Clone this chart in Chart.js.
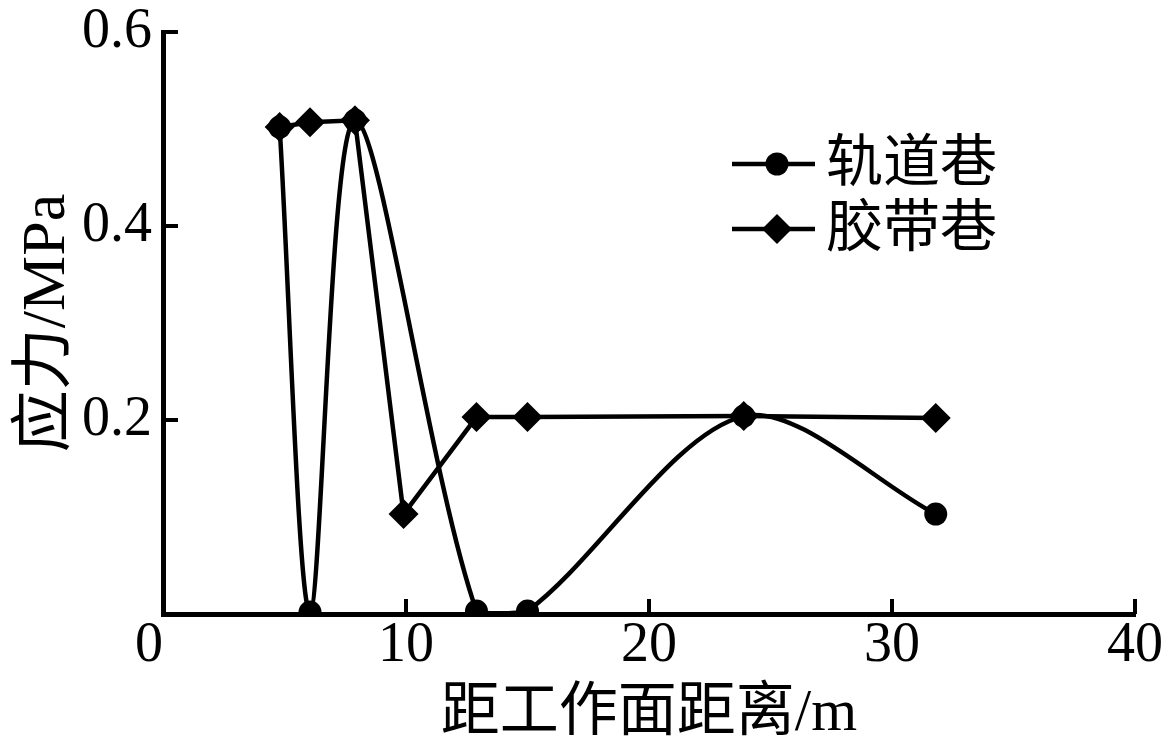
<!DOCTYPE html>
<html>
<head>
<meta charset="utf-8">
<title>应力</title>
<script src="https://cdn.jsdelivr.net/npm/chart.js@4/dist/chart.umd.min.js"></script>
<style>
  html, body { margin: 0; padding: 0; background: #fff; }
  #wrap { width: 1164px; height: 756px; position: relative; }
</style>
</head>
<body>
<div id="wrap"><canvas id="chart"></canvas></div>
<script>
'use strict';

// data
var seriesNames = ['轨道巷', '胶带巷'];
var trackX = [4.8, 6.05, 7.9, 12.9, 15, 23.9, 31.8];
var trackY = [0.502, 0.002, 0.509, 0.003, 0.003, 0.204, 0.103];
var beltX = [4.8, 6.05, 7.9, 9.9, 12.9, 15, 23.9, 31.8];
var beltY = [0.502, 0.507, 0.509, 0.103, 0.203, 0.203, 0.204, 0.202];
var xTicks = [0, 10, 20, 30, 40];
var yTicks = [0.2, 0.4, 0.6];

var FONT = "'Liberation Serif', 'Times New Roman', 'Noto Sans CJK SC', serif";
var TICK_LEN = 15;

function toPoints(xs, ys) {
    return xs.map(function (x, i) { return {x: x, y: ys[i]}; });
}

// inward tick marks, placed by the scales
var innerTicks = {
    id: 'innerTicks',
    afterDraw: function (chart) {
        var ctx = chart.ctx, area = chart.chartArea;
        var sx = chart.scales.x, sy = chart.scales.y;
        ctx.save();
        ctx.strokeStyle = '#000';
        ctx.lineWidth = 4;
        xTicks.forEach(function (v) {
            var px = sx.getPixelForValue(v);
            ctx.beginPath();
            ctx.moveTo(px, area.bottom);
            ctx.lineTo(px, area.bottom - TICK_LEN);
            ctx.stroke();
        });
        yTicks.forEach(function (v) {
            var py = sy.getPixelForValue(v);
            ctx.beginPath();
            ctx.moveTo(area.left, py);
            ctx.lineTo(area.left + TICK_LEN, py);
            ctx.stroke();
        });
        ctx.restore();
    }
};

// legend: short line with marker, then the label
var lineLegend = {
    id: 'lineLegend',
    afterDraw: function (chart) {
        var ctx = chart.ctx;
        var rows = [164, 229];
        ctx.save();
        chart.data.datasets.forEach(function (ds, i) {
            var y = rows[i];
            ctx.strokeStyle = '#000';
            ctx.fillStyle = '#000';
            ctx.lineWidth = 4.5;
            ctx.beginPath();
            ctx.moveTo(732, y);
            ctx.lineTo(815, y);
            ctx.stroke();
            var cx = 777, r = ds.pointRadius;
            ctx.beginPath();
            if (ds.pointStyle === 'rectRot') {
                ctx.moveTo(cx - r, y);
                ctx.lineTo(cx, y - r);
                ctx.lineTo(cx + r, y);
                ctx.lineTo(cx, y + r);
                ctx.closePath();
            } else {
                ctx.arc(cx, y, r, 0, Math.PI * 2);
            }
            ctx.fill();
            ctx.font = '57px ' + FONT;
            ctx.textAlign = 'left';
            ctx.textBaseline = 'middle';
            ctx.fillText(ds.label, 826, y + 2);
        });
        ctx.restore();
    }
};

var ctx = document.getElementById('chart').getContext('2d');
var chart = new Chart(ctx, {
    type: 'line',
    data: {
        datasets: [
            {
                label: seriesNames[0],
                data: toPoints(trackX, trackY),
                borderColor: '#000',
                backgroundColor: '#000',
                borderWidth: 4.5,
                pointStyle: 'circle',
                pointRadius: 11.5,
                pointBorderWidth: 0,
                tension: 0.3,
                order: 1
            },
            {
                label: seriesNames[1],
                data: toPoints(beltX, beltY),
                borderColor: '#000',
                backgroundColor: '#000',
                borderWidth: 4.5,
                pointStyle: 'rectRot',
                pointRadius: 15,
                pointBorderWidth: 0,
                tension: 0,
                order: 0
            }
        ]
    },
    options: {
        responsive: true,
        maintainAspectRatio: false,
        devicePixelRatio: 1,
        animation: false,
        layout: { padding: { left: 0, top: 32, right: 29, bottom: 0 } },
        plugins: {
            legend: { display: false },
            tooltip: { enabled: false }
        },
        scales: {
            x: {
                type: 'linear',
                min: 0,
                max: 40,
                afterFit: function (scale) {
                    scale.height = 142;
                    scale.paddingLeft = 0;
                    scale.paddingRight = 0;
                },
                afterBuildTicks: function (scale) {
                    scale.ticks = xTicks.map(function (v) { return {value: v}; });
                },
                grid: { display: false, drawTicks: false },
                border: { display: true, color: '#000', width: 5 },
                ticks: {
                    color: '#000',
                    padding: 4,
                    maxRotation: 0,
                    font: { family: FONT, size: 56, lineHeight: 1 },
                    callback: function (v) { return v === 0 ? '0  ' : String(v); }
                },
                title: {
                    display: true,
                    text: '距工作面距离/m',
                    color: '#000',
                    font: { family: FONT, size: 59 },
                    padding: { top: 0, bottom: 6 }
                }
            },
            y: {
                type: 'linear',
                min: 0,
                max: 0.6,
                afterFit: function (scale) {
                    scale.width = 163;
                    scale.paddingTop = 0;
                    scale.paddingBottom = 0;
                },
                afterBuildTicks: function (scale) {
                    scale.ticks = yTicks.map(function (v) { return {value: v}; });
                },
                grid: { display: false, drawTicks: false },
                border: { display: true, color: '#000', width: 5 },
                ticks: {
                    color: '#000',
                    padding: 11,
                    font: { family: FONT, size: 56, lineHeight: 1 },
                    callback: function (v) { return v.toFixed(1); }
                },
                title: {
                    display: true,
                    text: '应力/MPa',
                    color: '#000',
                    font: { family: FONT, size: 62 },
                    padding: { top: 11, bottom: 0 }
                }
            }
        }
    },
    plugins: [innerTicks, lineLegend]
});
</script>
</body>
</html>
